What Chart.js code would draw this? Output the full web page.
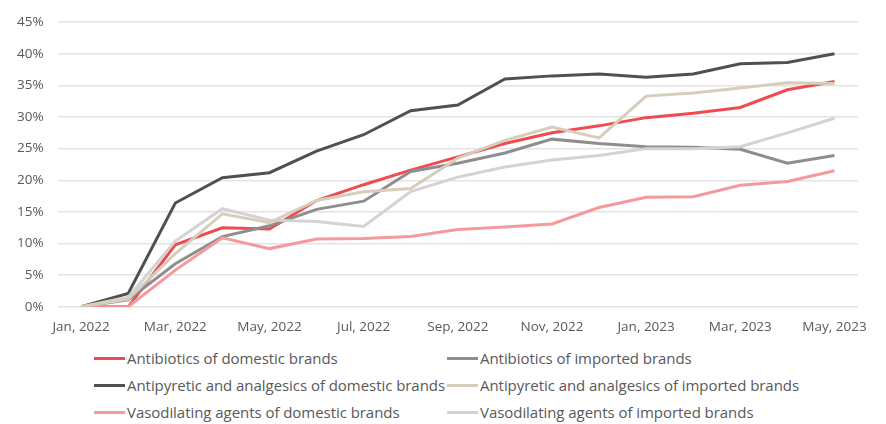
<!DOCTYPE html>
<html>
<head>
<meta charset="utf-8">
<script src="https://cdn.jsdelivr.net/npm/chart.js@4"></script>
<style>
  body { margin: 0; background: #fff; font-family: "Open Sans", sans-serif; }
  #wrap { position: relative; width: 886px; height: 339px; }
  #legend { position: absolute; left: 94px; top: 348px; display: grid; grid-template-columns: 353px 400px; row-gap: 7px; }
  .item { display: flex; align-items: center; font-size: 15px; color: #595959; height: 20px; white-space: nowrap; letter-spacing: -0.05px; }
  .sw { width: 31px; height: 3px; margin-right: 2px; }
</style>
</head>
<body>
<div id="wrap"><canvas id="c" width="886" height="339"></canvas></div>
<div id="legend"></div>
<script>
const months = ["Jan, 2022", "Feb, 2022", "Mar, 2022", "Apr, 2022", "May, 2022", "Jun, 2022", "Jul, 2022", "Aug, 2022",
  "Sep, 2022", "Oct, 2022", "Nov, 2022", "Dec, 2022", "Jan, 2023", "Feb, 2023", "Mar, 2023", "Apr, 2023", "May, 2023"];

const antibioticsDomestic = [0, 0, 9.8, 12.5, 12.3, 16.8, 19.3, 21.6, 23.7, 25.8, 27.5, 28.6, 29.9, 30.6, 31.5, 34.3, 35.6];
const antibioticsImported = [0, 1.1, 6.8, 11.1, 12.8, 15.4, 16.7, 21.4, 22.7, 24.3, 26.5, 25.8, 25.3, 25.2, 24.9, 22.7, 23.9];
const antipyreticDomestic = [0, 2.1, 16.4, 20.4, 21.2, 24.6, 27.2, 31.0, 31.9, 36.0, 36.5, 36.8, 36.3, 36.8, 38.4, 38.6, 40.0];
const antipyreticImported = [0, 1.2, 8.4, 14.7, 13.3, 16.8, 18.2, 18.7, 23.5, 26.3, 28.4, 26.7, 33.3, 33.8, 34.6, 35.4, 35.3];
const vasodilatingDomestic = [0, 0, 5.8, 10.9, 9.2, 10.7, 10.8, 11.1, 12.2, 12.6, 13.1, 15.7, 17.3, 17.4, 19.2, 19.8, 21.5];
const vasodilatingImported = [0, 1.5, 10.4, 15.5, 13.7, 13.5, 12.7, 18.2, 20.5, 22.1, 23.2, 23.9, 25.0, 25.0, 25.3, 27.5, 29.8];

const seriesNames = ["Antibiotics of domestic brands", "Antibiotics of imported brands",
  "Antipyretic and analgesics of domestic brands", "Antipyretic and analgesics of imported brands",
  "Vasodilating agents of domestic brands", "Vasodilating agents of imported brands"];
const seriesData = [antibioticsDomestic, antibioticsImported, antipyreticDomestic, antipyreticImported, vasodilatingDomestic, vasodilatingImported];
const colors = ["#f04b50", "#8e8e8e", "#505050", "#d6cebb", "#f49a9c", "#d3d3d3"];

// draw order: light ones behind
const order = [5, 4, 3, 0, 1, 2];

const chart = new Chart(document.getElementById("c"), {
  type: "line",
  data: {
    labels: months,
    datasets: seriesNames.map((name, i) => ({
      label: name,
      data: seriesData[i],
      borderColor: colors[i],
      backgroundColor: colors[i],
      borderWidth: 3,
      pointRadius: 0,
      tension: 0,
      order: order[i]
    }))
  },
  options: {
    responsive: false,
    animation: false,
    layout: { padding: { left: 3, right: 28, top: 10, bottom: 0 } },
    plugins: { legend: { display: false }, tooltip: { enabled: false } },
    scales: {
      x: {
        offset: true,
        grid: { display: false },
        border: { display: false },
        ticks: {
          color: "#595959",
          font: { family: "Open Sans", size: 13.5 },
          autoSkip: false,
          maxRotation: 0,
          padding: 4,
          callback: function (v, i) { return i % 2 === 0 ? months[i] : null; }
        }
      },
      y: {
        min: 0, max: 45,
        grid: { color: "#e3e3e3", lineWidth: 1.5, drawTicks: false },
        border: { display: false },
        ticks: {
          stepSize: 5,
          color: "#595959",
          font: { family: "Open Sans", size: 13.5 },
          padding: 14,
          callback: v => v + "%"
        }
      }
    }
  }
});

const legend = document.getElementById("legend");
chart.data.datasets.forEach(ds => {
  const el = document.createElement("div");
  el.className = "item";
  el.innerHTML = '<span class="sw" style="background:' + ds.borderColor + '"></span>' + ds.label;
  legend.appendChild(el);
});
</script>
</body>
</html>
